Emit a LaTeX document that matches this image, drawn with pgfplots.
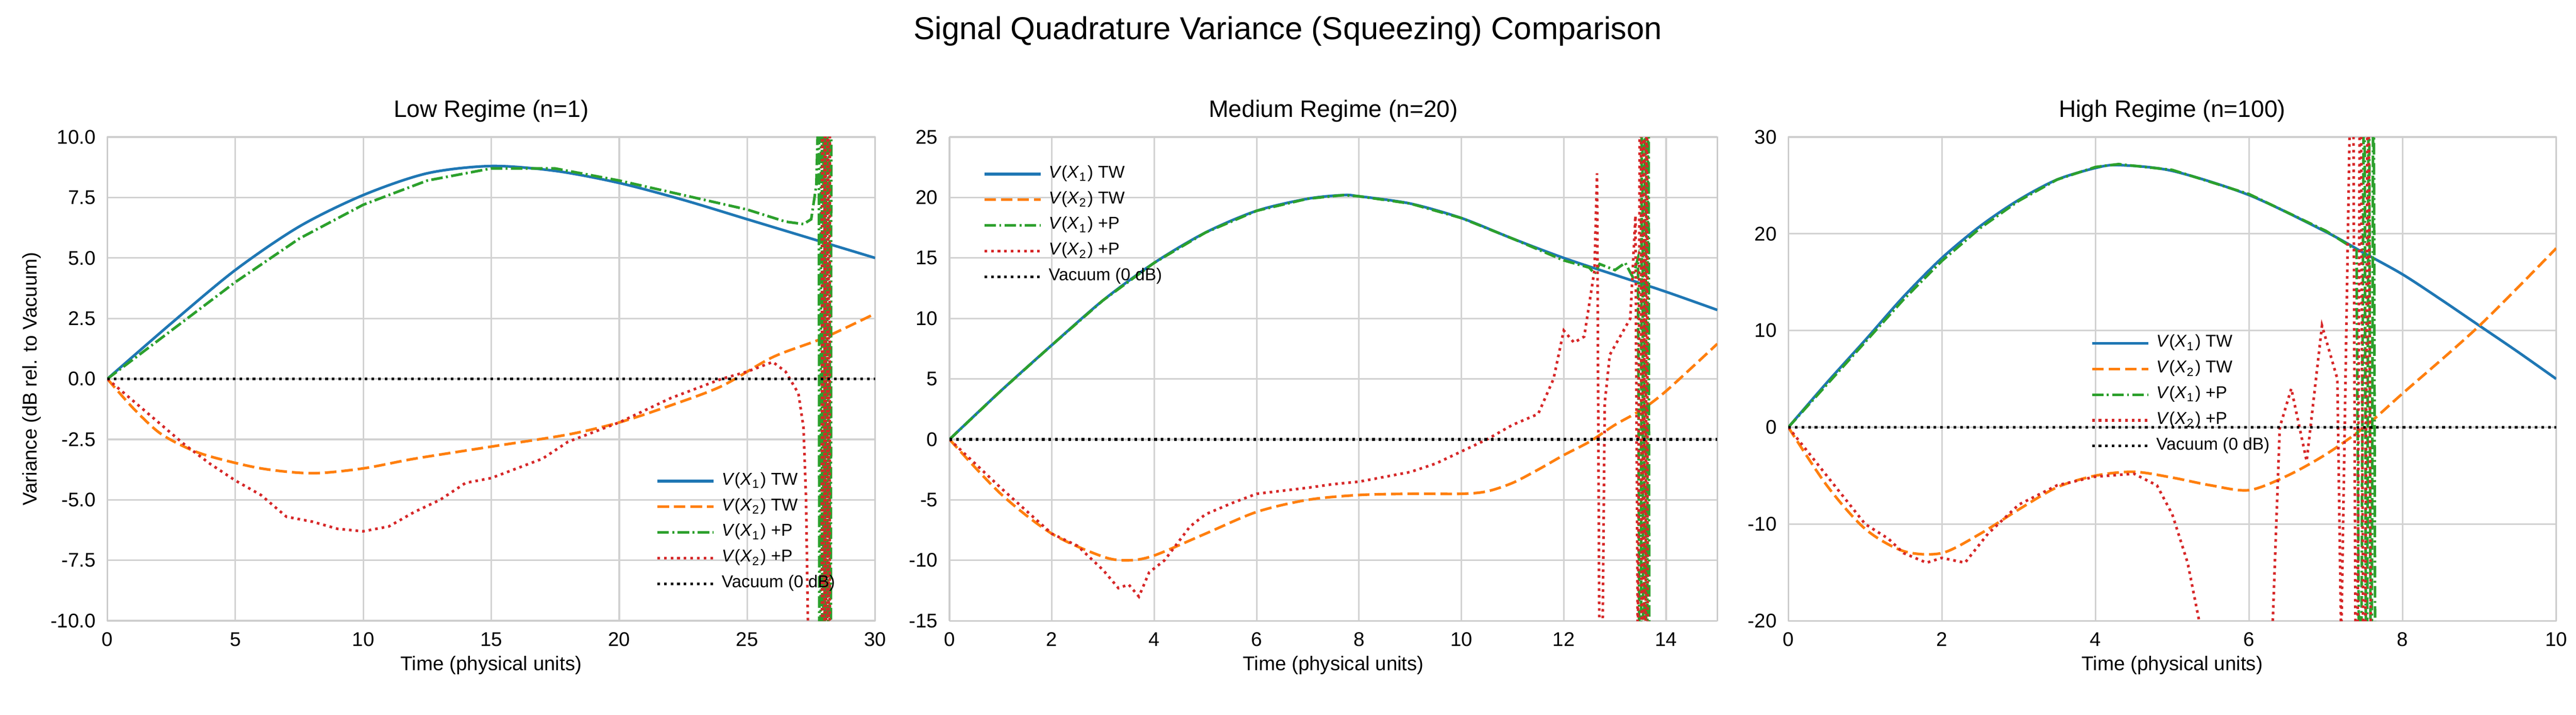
\documentclass[border=0pt]{standalone}
\usepackage{pgfplots}
\pgfplotsset{compat=1.18}
\usepackage{fontspec}
\setmainfont{Liberation Sans}
\definecolor{c1}{HTML}{1F77B4}
\definecolor{c2}{HTML}{FF7F0E}
\definecolor{c3}{HTML}{2CA02C}
\definecolor{c4}{HTML}{D62728}
\newcommand{\VX}[1]{\textit{V}(\textit{X}\textsubscript{#1})}
\pgfplotsset{
  myax/.style={width=232.5pt,height=146.5pt,scale only axis,
    grid=major,major grid style={gray!35,line width=0.5pt},
    axis line style={gray!40},tick style={draw=none},
    tick label style={font=\fontsize{6}{7}\selectfont},
    label style={font=\fontsize{6}{7}\selectfont},
    title style={font=\fontsize{7.2}{8}\selectfont,yshift=-5pt},
    /pgf/number format/assume math mode=true,
    legend style={draw=none,fill=none,font=\fontsize{5.2}{6}\selectfont,row sep=-1.5pt},
    legend cell align=left,
    xlabel={Time (physical units)}, xlabel style={yshift=4pt},
    clip=true},
  l1/.style={c1,line width=0.8pt,smooth},
  l2/.style={c2,line width=0.8pt,smooth,dash pattern=on 3.5pt off 1.5pt},
  l3/.style={c3,line width=0.8pt,dash pattern=on 3.5pt off 1pt on 0.6pt off 1pt},
  l4/.style={c4,line width=0.8pt,dash pattern=on 0.8pt off 1.2pt},
  l5/.style={black,line width=0.8pt,dash pattern=on 0.8pt off 1.2pt},
}
\begin{document}
\begin{tikzpicture}
\useasboundingbox (0,0) rectangle (780pt,216.5pt);
\node[font=\fontsize{9.6}{11}\selectfont] at (390pt,207pt) {Signal Quadrature Variance (Squeezing) Comparison};
% Panel 1
\begin{axis}[myax,at={(32.5pt,28.5pt)},xmin=0,xmax=30,ymin=-10,ymax=10,
  title={Low Regime (n=1)},ylabel={Variance (dB rel. to Vacuum)},ylabel style={yshift=-4pt},
  ytick={-10,-7.5,-5,-2.5,0,2.5,5,7.5,10},yticklabel style={/pgf/number format/fixed,/pgf/number format/fixed zerofill,/pgf/number format/precision=1},
  legend pos=south east]
\addplot[l1] coordinates {(0,0)(2.5,2.3)(5,4.5)(7.5,6.3)(10,7.6)(12.5,8.5)(15,8.8)(17.5,8.6)(20,8.1)(22.5,7.4)(25,6.6)(27.5,5.8)(30,5.0)};
\addplot[l2] coordinates {(0,0)(1,-1.2)(2,-2.2)(3,-2.8)(4,-3.2)(6,-3.7)(8,-3.9)(10,-3.7)(12,-3.3)(15,-2.8)(18,-2.3)(20,-1.8)(22,-1.1)(24,-0.3)(26,0.9)(28,1.7)(30,2.7)};
\addplot[l3] coordinates {(0,0)(2.5,2)(5,4)(7.5,5.8)(10,7.2)(12.5,8.2)(15,8.7)(17.5,8.7)(20,8.2)(22.5,7.6)(25,7.0)(26.5,6.5)(27.2,6.4)(27.5,6.6)(27.7,8)(27.8,12)
 (27.85,-50)(27.9,50)(27.95,-50)(28.0,50)(28.05,-50)(28.1,50)(28.15,-50)(28.2,50)(28.25,-50)(28.3,50)};
\addplot[l4] coordinates {(0,0)(1,-0.9)(2,-1.8)(3,-2.7)(4,-3.5)(5,-4.2)(6,-4.8)(7,-5.7)(8,-5.9)(9,-6.2)(10,-6.3)(11,-6.1)(12,-5.5)(13,-5.0)(14,-4.3)(15,-4.1)(16,-3.7)(17,-3.3)(18,-2.6)(20,-1.8)(22,-0.8)(24,0.0)(25,0.3)(26,0.7)(26.5,0.3)(27,-0.6)(27.2,-2)(27.3,-5)(27.4,-12)
 (27.9,-50)(27.95,50)(28.0,-50)(28.05,50)(28.1,-50)(28.15,50)(28.2,-50)(28.25,50)};
\addplot[l5] coordinates {(0,0)(30,0)};
\legend{\VX{1} TW,\VX{2} TW,\VX{1} +P,\VX{2} +P,Vacuum (0 dB)}
\end{axis}
% Panel 2
\begin{axis}[myax,at={(287.5pt,28.5pt)},xmin=0,xmax=15,ymin=-15,ymax=25,
  xtick={0,2,...,14},ytick={-15,-10,...,25},
  title={Medium Regime (n=20)},legend pos=north west]
\addplot[l1] coordinates {(0,0)(1,4)(2,7.8)(3,11.5)(4,14.6)(5,17.1)(6,18.9)(7,19.9)(7.7,20.2)(8,20.1)(9,19.5)(10,18.3)(11,16.6)(12,15)(13,13.6)(14,12.2)(15,10.7)};
\addplot[l2] coordinates {(0,0)(1,-4.5)(2,-7.8)(3,-9.7)(3.5,-10)(4,-9.6)(5,-7.8)(6,-6)(7,-5)(8,-4.6)(9,-4.5)(10,-4.5)(10.5,-4.3)(11,-3.6)(11.5,-2.5)(12,-1.3)(12.5,-0.2)(13,1.2)(13.5,2.4)(14,4.0)(15,7.9)};
\addplot[l3] coordinates {(0,0)(1,4)(2,7.8)(3,11.5)(4,14.6)(5,17.1)(6,18.9)(7,19.9)(7.7,20.2)(8,20.1)(9,19.5)(10,18.3)(11,16.6)(12,14.8)(12.5,14.2)(12.6,13.7)(12.7,14.5)(13,14)(13.2,14.6)(13.35,13.4)(13.45,15)
 (13.5,-50)(13.53,50)(13.56,-50)(13.59,50)(13.62,-50)(13.65,50)(13.68,-50)};
\addplot[l4] coordinates {(0,0)(1,-4)(2,-7.8)(2.5,-8.8)(3,-10.8)(3.3,-12.3)(3.5,-12)(3.7,-13)(3.9,-11)(4.2,-10)(4.7,-7.2)(5,-6.2)(5.5,-5.3)(6,-4.5)(7,-4)(7.5,-3.7)(8,-3.5)(9,-2.7)(9.5,-2)(10,-1)(10.5,0)(11,1.2)(11.5,2.1)(11.8,5)(12,9)(12.2,8)(12.4,8.5)(12.6,14)(12.65,22)(12.7,-20)(12.75,-20)(12.8,3)(12.9,7)(13.1,8.5)(13.3,10)(13.4,18.5)(13.45,-20)
 (13.5,50)(13.53,-50)(13.56,50)(13.59,-50)(13.62,50)(13.65,-50)};
\addplot[l5] coordinates {(0,0)(15,0)};
\legend{\VX{1} TW,\VX{2} TW,\VX{1} +P,\VX{2} +P,Vacuum (0 dB)}
\end{axis}
% Panel 3
\begin{axis}[myax,at={(541.5pt,28.5pt)},xmin=0,xmax=10,ymin=-20,ymax=30,
  xtick={0,2,...,10},ytick={-20,-10,...,30},
  title={High Regime (n=100)},legend style={at={(0.38,0.62)},anchor=north west}]
\addplot[l1] coordinates {(0,0)(0.5,4.6)(1,9)(1.5,13.5)(2,17.5)(2.5,20.8)(3,23.5)(3.5,25.6)(4,26.8)(4.3,27.1)(5,26.5)(6,24)(7,20.2)(7.5,18.0)(8,15.8)(8.5,13.2)(9,10.5)(9.5,7.8)(10,5)};
\addplot[l2] coordinates {(0,0)(0.5,-6)(1,-10.5)(1.5,-12.8)(2,-13)(2.5,-11)(3,-8.5)(3.5,-6.2)(4,-5.0)(4.5,-4.6)(5,-5.2)(5.5,-6)(6,-6.5)(6.5,-5)(7,-2.8)(7.5,0)(8,3.5)(9,10.5)(10,18.5)};
\addplot[l3] coordinates {(0,0)(0.5,4.4)(1,8.8)(1.5,13.2)(2,17.2)(2.5,20.6)(3,23.4)(3.5,25.6)(4,26.9)(4.3,27.2)(5,26.6)(6,24.1)(7,20.3)(7.4,18.3)
 (7.45,-50)(7.5,50)(7.53,-50)(7.56,50)(7.59,-50)(7.62,50)(7.65,-50)};
\addplot[l4] coordinates {(0,0)(0.5,-5)(1,-10)(1.3,-11.5)(1.5,-13)(1.8,-14)(2,-13.5)(2.3,-14)(2.6,-11)(3,-8)(3.5,-6)(4,-5.1)(4.5,-4.8)(4.8,-6)(5,-9)(5.2,-14)(5.4,-22)(6.3,-22)(6.4,0)(6.55,4)(6.75,-3.5)(6.95,10.5)(7.15,5)(7.2,-22)
 (7.35,50)(7.4,-50)(7.45,50)(7.5,-50)(7.55,50)(7.6,-50)};
\addplot[l5] coordinates {(0,0)(10,0)};
\legend{\VX{1} TW,\VX{2} TW,\VX{1} +P,\VX{2} +P,Vacuum (0 dB)}
\end{axis}
\end{tikzpicture}
\end{document}
